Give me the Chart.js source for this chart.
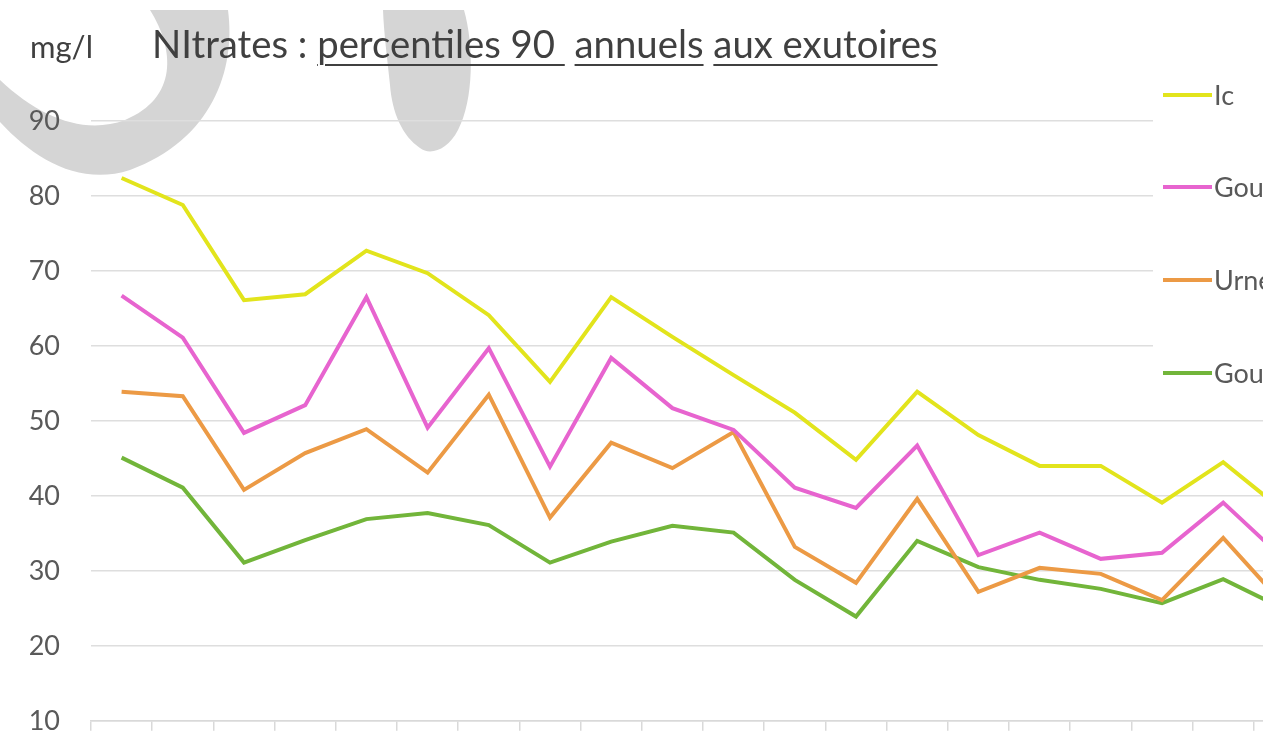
<!DOCTYPE html>
<html><head><meta charset="utf-8">
<script src="https://cdn.jsdelivr.net/npm/chart.js@4"></script>
<style>
html,body{margin:0;padding:0;background:#fff;overflow:hidden;width:1263px;height:731px;}
#wrap{position:relative;width:1263px;height:731px;overflow:hidden;}
#wm{position:absolute;left:0;top:0;}
#c{position:absolute;left:0;top:0;}
.t{position:absolute;font-family:Lato,sans-serif;color:#404040;white-space:pre;line-height:1;}
.t u{text-decoration-thickness:2px;text-underline-offset:6px;}
</style></head>
<body><div id="wrap">
<svg id="wm" width="1263" height="731">
<path d="M 150 10 L 228 10 C 236 70 212 140 130 170 C 80 186 35 160 0 122 L 0 80 C 40 118 85 135 125 120 C 178 98 175 50 150 10 Z" fill="#d5d5d5"/>
<path d="M 383 10 L 464 10 C 474 45 474 100 458 130 C 448 150 430 156 420 148 C 402 136 392 112 390 85 C 387 55 384 35 383 10 Z" fill="#d5d5d5"/>
</svg>
<canvas id="c" width="1320" height="768"></canvas>
<div class="t" style="left:30px;top:31px;font-size:31px;">mg/l</div>
<div class="t" style="left:152px;top:24px;font-size:38.3px;">NItrates : <u>percentiles 90 </u> <u>annuels</u> <u>aux exutoires</u></div>
</div>
<script>
const categories = ["1","2","3","4","5","6","7","8","9","10","11","12","13","14","15","16","17","18","19","20"];
const seriesNames = ["Ic", "Gouët", "Urne", "Gouessant"];
const icValues = [82.4, 78.8, 66.1, 66.9, 72.7, 69.7, 64.1, 55.2, 66.5, 61.2, 56.1, 51.1, 44.8, 53.9, 48.1, 44.0, 44.0, 39.1, 44.5, 37.9];
const gouetValues = [66.7, 61.1, 48.4, 52.1, 66.5, 49.1, 59.7, 43.9, 58.4, 51.7, 48.8, 41.1, 38.4, 46.7, 32.1, 35.1, 31.6, 32.4, 39.1, 31.5];
const urneValues = [53.9, 53.3, 40.8, 45.7, 48.9, 43.1, 53.5, 37.1, 47.1, 43.7, 48.5, 33.2, 28.4, 39.6, 27.2, 30.4, 29.6, 26.1, 34.4, 25.4];
const gouessantValues = [45.1, 41.1, 31.1, 34.1, 36.9, 37.7, 36.1, 31.1, 33.9, 36.0, 35.1, 28.8, 23.9, 34.0, 30.5, 28.8, 27.6, 25.7, 28.9, 24.9];
const yTicks = [10, 20, 30, 40, 50, 60, 70, 80, 90];

const colors = ["#e2e41c", "#e764cf", "#ec9a45", "#72b53a"];
const values = [icValues, gouetValues, urneValues, gouessantValues];

const legendPlugin = {
  id: 'sideLegend',
  afterDatasetsDraw(chart) {
    const ctx = chart.ctx;
    ctx.save();
    ctx.fillStyle = '#ffffff';
    ctx.fillRect(1153, 70, chart.width - 1153, 330);
    const ys = [95, 187, 280, 373];
    chart.data.datasets.forEach((ds, i) => {
      ctx.strokeStyle = ds.borderColor;
      ctx.lineWidth = 4;
      ctx.beginPath();
      ctx.moveTo(1163, ys[i]);
      ctx.lineTo(1212, ys[i]);
      ctx.stroke();
      ctx.fillStyle = '#595959';
      ctx.font = '27px Lato';
      ctx.textBaseline = 'middle';
      ctx.fillText(ds.label, 1214, ys[i] + 1);
    });
    ctx.restore();
  }
};

new Chart(document.getElementById('c'), {
  type: 'line',
  data: {
    labels: categories,
    datasets: values.map((v, i) => ({
      label: seriesNames[i],
      data: v,
      borderColor: colors[i],
      backgroundColor: colors[i],
      borderWidth: 4,
      pointRadius: 0,
      tension: 0,
      fill: false
    }))
  },
  options: {
    responsive: false,
    animation: false,
    devicePixelRatio: 1,
    layout: { padding: { top: 121, right: 5, bottom: 0, left: 0 } },
    plugins: { legend: { display: false }, tooltip: { enabled: false } },
    scales: {
      x: {
        offset: true,
        afterFit: (s) => { s.height = 40; },
        grid: { offset: true, drawOnChartArea: false, drawTicks: true, tickLength: 10, color: '#d9d9d9', lineWidth: 1.5 },
        border: { display: true, color: '#d9d9d9', width: 1.5 },
        ticks: { display: false }
      },
      y: {
        min: 10, max: 90,
        afterBuildTicks: (s) => { s.ticks = yTicks.map(v => ({ value: v })); },
        afterFit: (s) => { s.width = 91; },
        grid: { color: '#dedede', lineWidth: 1.5, drawTicks: false },
        border: { display: false },
        ticks: { padding: 31, color: '#595959', font: { family: 'Lato', size: 27 } }
      }
    }
  },
  plugins: [legendPlugin]
});
</script>
</body></html>
